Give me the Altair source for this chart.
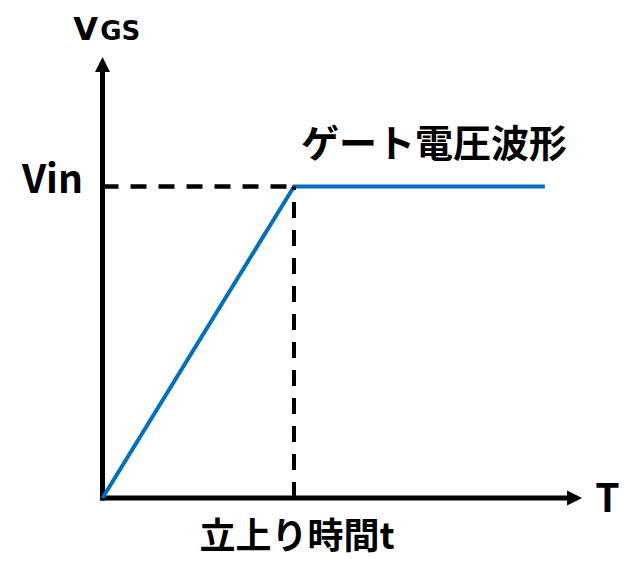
import altair as alt
import pandas as pd

# ---- data (in units: time / rise time, voltage / Vin) ----
wave_t = [0.0, 1.0, 2.31]
wave_v = [0.0, 1.0, 1.0]
guide_h_t = [0.0, 1.0]
guide_h_v = [1.0, 1.0]
guide_v_t = [1.0, 1.0]
guide_v_v = [0.0, 1.0]
axis_x_t = [0.0, 2.465]
axis_x_v = [0.0, 0.0]
axis_y_t = [0.0, 0.0]
axis_y_v = [0.0, 1.392]

FONT = "Noto Sans CJK JP"
LATIN = "DejaVu Sans"
xs = alt.Scale(domain=[-0.4935, 2.7441])
ys = alt.Scale(domain=[-0.2376, 1.5409])


def line_df(t, v):
    return pd.DataFrame({"t": t, "v": v, "o": list(range(len(t)))})


def enc(ch):
    return ch.encode(
        x=alt.X("t:Q", scale=xs, axis=None),
        y=alt.Y("v:Q", scale=ys, axis=None),
        order="o:Q",
    )


axis_x = enc(alt.Chart(line_df(axis_x_t, axis_x_v)).mark_line(color="black", strokeWidth=5, strokeCap="square"))
axis_y = enc(alt.Chart(line_df(axis_y_t, axis_y_v)).mark_line(color="black", strokeWidth=5, strokeCap="square"))

arrow_up = alt.Chart(pd.DataFrame({"t": [axis_y_t[-1]], "v": [axis_y_v[-1]]})).mark_point(
    shape="M0,-1L1,1L-1,1Z", size=225, filled=True, color="black", opacity=1
).encode(x=alt.X("t:Q", scale=xs, axis=None), y=alt.Y("v:Q", scale=ys, axis=None))
arrow_right = alt.Chart(pd.DataFrame({"t": [axis_x_t[-1]], "v": [axis_x_v[-1]]})).mark_point(
    shape="M1,0L-1,-1L-1,1Z", size=225, filled=True, color="black", opacity=1
).encode(x=alt.X("t:Q", scale=xs, axis=None), y=alt.Y("v:Q", scale=ys, axis=None))

wave = enc(alt.Chart(line_df(wave_t, wave_v)).mark_line(color="#0070C0", strokeWidth=4))

dash_h = enc(alt.Chart(line_df(guide_h_t, guide_h_v)).mark_line(color="black", strokeWidth=4.5, strokeDash=[16, 12]))
dash_v = enc(alt.Chart(line_df(guide_v_t, guide_v_v)).mark_line(color="black", strokeWidth=4, strokeDash=[16, 12]))


def label(text, t, v, size, align, font=FONT):
    return alt.Chart(pd.DataFrame({"t": [t], "v": [v], "txt": [text]})).mark_text(
        font=font, fontWeight="bold", fontSize=size, align=align, baseline="alphabetic", color="black"
    ).encode(x=alt.X("t:Q", scale=xs, axis=None), y=alt.Y("v:Q", scale=ys, axis=None), text="txt:N")


texts = [
    label("V", -0.024, 1.4703, 32, "right", LATIN),
    label("GS", -0.012, 1.4703, 26, "left", LATIN),
    label("Vin", -0.102, 0.979, 39, "right"),
    label("T", 2.637, -0.044, 39, "center"),
    label("ゲート電圧波形", 1.731, 1.095, 38, "center"),
    label("立上り時間t", 1.016, -0.165, 36, "center"),
]

chart = alt.layer(axis_x, axis_y, arrow_up, arrow_right, wave, dash_h, dash_v, *texts).properties(
    width=620, height=554,
    padding={"left": 0, "top": 10, "right": 0, "bottom": 0},
    autosize=alt.AutoSizeParams(type="none"),
).configure_view(strokeWidth=0)

chart.save("out.html", embed_options={"renderer": "svg", "actions": False})
